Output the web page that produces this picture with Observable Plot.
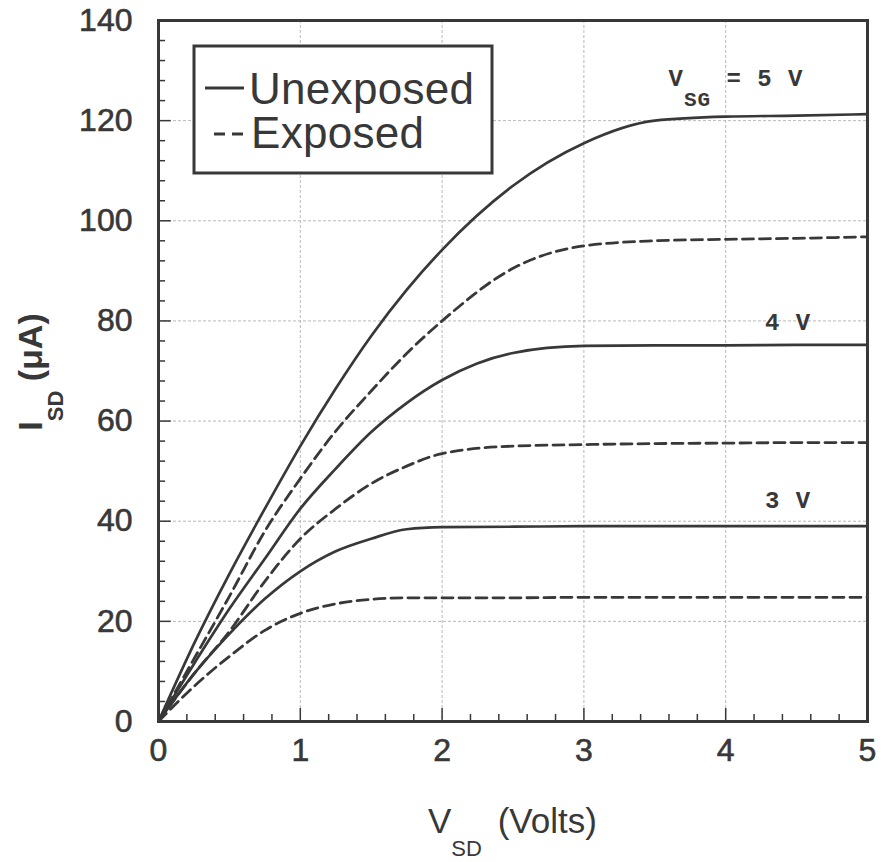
<!DOCTYPE html>
<html>
<head>
<meta charset="utf-8">
<script src="https://cdn.jsdelivr.net/npm/d3@7"></script>
<script src="https://cdn.jsdelivr.net/npm/@observablehq/plot@0.6"></script>
<style>
  html, body { margin: 0; padding: 0; background: #fff; }
  #chart { width: 881px; height: 862px; }
  svg [aria-label="x-axis tick label"] text,
  svg [aria-label="y-axis tick label"] text { stroke: #383838; stroke-width: 0.6px; }
</style>
</head>
<body>
<div id="chart"></div>
<script>
// ---- data ----
const vsd = [0, 0.25, 0.5, 0.75, 1, 1.25, 1.5, 1.75, 2, 2.5, 3, 3.5, 4, 4.5, 5];
const unexposed5 = [0, 15.5, 29.5, 42.5, 55, 66.5, 77, 86.2, 94.2, 107, 115.5, 120, 120.8, 121, 121.3];
const exposed5   = [0, 12.5, 25, 38, 48.5, 58, 66, 73.5, 80, 90.5, 95, 96, 96.3, 96.5, 96.8];
const unexposed4 = [0, 11.5, 22.5, 32.5, 42.5, 50.5, 57.8, 63.6, 68.2, 73.6, 75, 75.1, 75.1, 75.2, 75.2];
const exposed4   = [0, 9.5, 18, 28, 36.5, 42.5, 47.5, 51, 53.5, 55, 55.3, 55.5, 55.6, 55.7, 55.7];
const unexposed3 = [0, 9.5, 17.5, 24.5, 30, 34, 36.5, 38.4, 38.8, 38.9, 39, 39, 39, 39, 39];
const exposed3   = [0, 7, 13, 18.2, 21.6, 23.5, 24.4, 24.7, 24.7, 24.7, 24.8, 24.8, 24.8, 24.8, 24.8];

const xTicks = [0, 1, 2, 3, 4, 5];
const yTicks = [0, 20, 40, 60, 80, 100, 120, 140];
const xGrid = [1, 2, 3, 4];
const yGrid = [20, 40, 60, 80, 100, 120];
const xMinor = d3.range(1, 25).map(i => i / 5).filter(v => Math.abs(v - Math.round(v)) > 1e-9);
const yMinor = d3.range(1, 35).map(i => i * 4).filter(v => v % 20 !== 0);

const legendLabels = ["Unexposed", "Exposed"];
const vsgLabels = ["5", "4", "3"];
const vsgLabelX = [3.6, 4.28, 4.28];
const vsgLabelY = [126.8, 78, 42.6];

const series = [
  {vsg: 5, exposed: false, values: unexposed5},
  {vsg: 5, exposed: true,  values: exposed5},
  {vsg: 4, exposed: false, values: unexposed4},
  {vsg: 4, exposed: true,  values: exposed4},
  {vsg: 3, exposed: false, values: unexposed3},
  {vsg: 3, exposed: true,  values: exposed3}
];
const rows = series.flatMap(s => s.values.map((v, i) => ({vsd: vsd[i], isd: v, vsg: s.vsg, exposed: s.exposed})));

const ink = "#383838";
const sans = "'Liberation Sans', Arial, sans-serif";

const plot = Plot.plot({
  width: 881,
  height: 862,
  marginLeft: 158,
  marginRight: 14,
  marginTop: 20,
  marginBottom: 141,
  style: {fontFamily: sans, fontSize: "32px", color: ink, background: "#fff"},
  x: {domain: [0, 5], axis: null},
  y: {domain: [0, 140], axis: null},
  marks: [
    Plot.ruleX(xGrid, {stroke: "#b8b8b8", strokeWidth: 1, strokeDasharray: "3,2"}),
    Plot.ruleY(yGrid, {stroke: "#b8b8b8", strokeWidth: 1, strokeDasharray: "3,2"}),
    Plot.ruleX(xMinor, {y1: 0, y2: 1.4, stroke: ink, strokeWidth: 1.5}),
    Plot.ruleX(xGrid, {y1: 0, y2: 2.6, stroke: ink, strokeWidth: 1.5}),
    Plot.ruleY(yMinor, {x1: 0, x2: 0.05, stroke: ink, strokeWidth: 1.5}),
    Plot.ruleY(yGrid, {x1: 0, x2: 0.09, stroke: ink, strokeWidth: 1.5}),
    Plot.line(rows.filter(d => !d.exposed), {x: "vsd", y: "isd", z: "vsg", stroke: ink, strokeWidth: 2.7, curve: "monotone-x"}),
    Plot.line(rows.filter(d => d.exposed), {x: "vsd", y: "isd", z: "vsg", stroke: ink, strokeWidth: 2.8, strokeDasharray: "11,6", curve: "monotone-x"}),
    Plot.frame({stroke: ink, strokeWidth: 3}),
    Plot.axisX(xTicks, {tickSize: 0, tickPadding: 17, fontSize: 32, fill: ink, label: null, tickFormat: d => String(d)}),
    Plot.axisY(yTicks, {tickSize: 0, tickPadding: 26, fontSize: 32, fill: ink, label: null, tickFormat: d => String(d)})
  ]
});

document.getElementById("chart").appendChild(plot);

const svg = d3.select(plot);
const sx = plot.scale("x");
const sy = plot.scale("y");

// V_SG labels
const mono = "'Liberation Mono', 'Courier New', monospace";
vsgLabels.forEach((lab, i) => {
  const t = svg.append("text")
    .attr("x", sx.apply(vsgLabelX[i]))
    .attr("y", sy.apply(vsgLabelY[i]))
    .attr("text-anchor", "start")
    .attr("font-family", mono)
    .attr("font-weight", "bold")
    .attr("font-size", 24)
    .attr("letter-spacing", 1)
    .attr("fill", ink);
  if (i === 0) {
    t.append("tspan").text("V");
    t.append("tspan").attr("font-size", 21).attr("dy", 20).attr("letter-spacing", 1).text("SG");
    t.append("tspan").attr("dy", -20).text(" = " + lab + " V");
  } else {
    t.text(lab + " V");
  }
});

// Legend
const lg = svg.append("g");
lg.append("rect").attr("x", 194).attr("y", 46).attr("width", 298).attr("height", 127)
  .attr("fill", "#fff").attr("stroke", ink).attr("stroke-width", 3);
lg.append("line").attr("x1", 205).attr("x2", 244).attr("y1", 88).attr("y2", 88)
  .attr("stroke", ink).attr("stroke-width", 3);
lg.append("line").attr("x1", 214).attr("x2", 249).attr("y1", 134).attr("y2", 134)
  .attr("stroke", ink).attr("stroke-width", 3).attr("stroke-dasharray", "11,7");
lg.append("text").attr("x", 249).attr("y", 104).attr("font-size", 44).attr("letter-spacing", 0.3).attr("text-anchor", "start")
  .attr("font-family", sans).attr("fill", ink).text(legendLabels[0]);
lg.append("text").attr("x", 251).attr("y", 148).attr("font-size", 44).attr("letter-spacing", 0.3).attr("text-anchor", "start")
  .attr("font-family", sans).attr("fill", ink).text(legendLabels[1]);

// X axis label
const xl = svg.append("text").attr("x", 428).attr("y", 833).attr("text-anchor", "start")
  .attr("font-family", sans).attr("font-size", 35).attr("fill", ink);
xl.append("tspan").text("V");
xl.append("tspan").attr("font-size", 22).attr("dy", 23).text("SD");
xl.append("tspan").attr("dy", -23).attr("dx", 6).text(" (Volts)");

// Y axis label
const yl = svg.append("text").attr("transform", "translate(42,372) rotate(-90)")
  .attr("text-anchor", "middle")
  .attr("font-family", sans).attr("font-weight", "bold")
  .attr("font-size", 34).attr("fill", ink);
yl.append("tspan").text("I");
yl.append("tspan").attr("font-size", 22).attr("dy", 21).text("SD");
yl.append("tspan").attr("dy", -21).text(" (\u03bcA)");
</script>
</body>
</html>
